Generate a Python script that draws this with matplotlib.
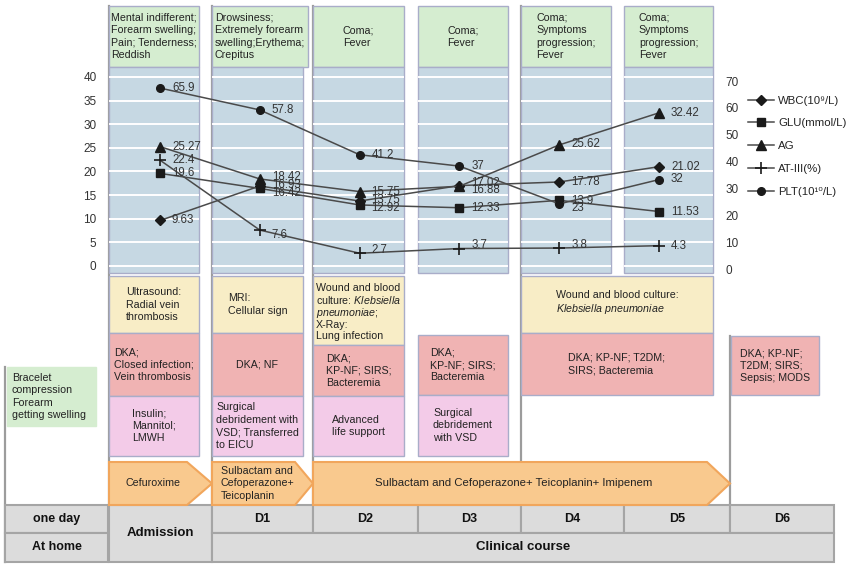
import numpy as np
import matplotlib.pyplot as plt
from matplotlib.patches import Rectangle, Polygon
from matplotlib.transforms import blended_transform_factory, ScaledTranslation

plt.rcParams['font.family'] = ['Liberation Sans', 'DejaVu Sans']
plt.rcParams['mathtext.fontset'] = 'custom'
plt.rcParams['mathtext.rm'] = 'Liberation Sans'
plt.rcParams['mathtext.it'] = 'Liberation Sans:italic'

# lab values per day (Admission, D1..D5)
days = ['Admission', 'D1', 'D2', 'D3', 'D4', 'D5']
wbc = [9.63, 16.93, 13.75, 17.02, 17.78, 21.02]
glu = [19.6, 16.42, 12.92, 12.33, 13.9, 11.53]
ag = [25.27, 18.42, 15.75, 16.88, 25.62, 32.42]
at3 = [22.4, 7.6, 2.7, 3.7, 3.8, 4.3]
plt_vals = [65.9, 57.8, 41.2, 37, 23, 32]

series_names = ['WBC(10⁹/L)', 'GLU(mmol/L)', 'AG', 'AT-III(%)', 'PLT(10¹⁰/L)']

symptoms = ['Mental indifferent;\nForearm swelling;\nPain; Tenderness;\nReddish',
            'Drowsiness;\nExtremely forearm\nswelling;Erythema;\nCrepitus',
            'Coma;\nFever', 'Coma;\nFever',
            'Coma;\nSymptoms\nprogression;\nFever',
            'Coma;\nSymptoms\nprogression;\nFever']
exams = ['Ultrasound:\nRadial vein\nthrombosis',
         'MRI:\nCellular sign',
         'Wound and blood\nculture: $\\it{Klebsiella}$\n$\\it{pneumoniae}$;\nX-Ray:\nLung infection',
         'Wound and blood culture:\n$\\it{Klebsiella\\ pneumoniae}$']
diagnoses = ['DKA;\nClosed infection;\nVein thrombosis', 'DKA; NF',
             'DKA;\nKP-NF; SIRS;\nBacteremia', 'DKA;\nKP-NF; SIRS;\nBacteremia',
             'DKA; KP-NF; T2DM;\nSIRS; Bacteremia',
             'DKA; KP-NF;\nT2DM; SIRS;\nSepsis; MODS']
treatments = ['Insulin;\nMannitol;\nLMWH',
              'Surgical\ndebridement with\nVSD; Transferred\nto EICU',
              'Advanced\nlife support',
              'Surgical\ndebridement\nwith VSD']
antibiotics = ['Cefuroxime', 'Sulbactam and\nCefoperazone+\nTeicoplanin',
               'Sulbactam and Cefoperazone+ Teicoplanin+ Imipenem']
home_note = 'Bracelet\ncompression\nForearm\ngetting swelling'
day_cells = ['D1', 'D2', 'D3', 'D4', 'D5', 'D6']

GREEN = '#d5edd0'
BLUE = '#c6d8e3'
YELLOW = '#f8edc6'
RED = '#f0b3b3'
PINK = '#f3cbe8'
ORANGE = '#f9c98e'
ORANGE_E = '#f1a65c'
GRAY = '#dcdcdc'
GRAY_E = '#a5a5a5'
COL_E = '#a9adc9'
FS = 7.7
LS = 1.3

fig = plt.figure(figsize=(8.5, 5.68), dpi=100)
ax = fig.add_axes([0, 0, 1, 1])
ax.set_xlim(0, 850)
ax.set_ylim(568, 0)
ax.axis('off')


def box(x0, x1, y0, y1, fc, ec=COL_E, text=None, lw=1.0, ha='center', tx=None,
        ls=LS, ty=None, **kw):
    ax.add_patch(Rectangle((x0, y0), x1 - x0, y1 - y0, facecolor=fc,
                           edgecolor=ec, lw=lw, zorder=2))
    if text is not None:
        if tx is None:
            tx = (x0 + x1) / 2
        if ty is None:
            ty = (y0 + y1) / 2
        ax.text(tx, ty, text, ha=ha, va='center', multialignment='left',
                fontsize=kw.pop('fontsize', FS), color=kw.pop('color', '#222222'),
                zorder=5, linespacing=ls, **kw)


cols = [(109, 199), (212, 303), (313, 404), (418, 508), (521, 611), (624, 713)]

# vertical guide lines
vl = dict(color='#9c9c9c', lw=1.6, zorder=1)
ax.plot([5, 5], [367, 562], **vl)
for x0, _ in cols[:3]:
    ax.plot([x0, x0], [6, 505], **vl)
ax.plot([521, 521], [6, 505], **vl)
ax.plot([730, 730], [336, 505], **vl)

# symptom boxes and chart panels
for (x0, x1), s in zip(cols, symptoms):
    box(x0, x1 + (5 if x0 == 212 else 0), 6, 67, GREEN, text=s)
    box(x0, x1, 67, 273, BLUE)

# exams / diagnoses / treatments
box(109, 199, 276, 333, YELLOW, text=exams[0])
box(212, 303, 276, 333, YELLOW, text=exams[1])
box(313, 404, 276, 345, YELLOW, text=exams[2], ls=1.05, ty=312)
box(521, 713, 276, 333, YELLOW, text=exams[3], ls=1.1, ty=303)

box(109, 199, 333, 396, RED, text=diagnoses[0])
box(212, 303, 333, 396, RED, text=diagnoses[1])
box(313, 404, 345, 396, RED, text=diagnoses[2])
box(418, 508, 335, 395, RED, text=diagnoses[3])
box(521, 713, 333, 395, RED, text=diagnoses[4])
box(731, 819, 336, 395, RED, text=diagnoses[5])

box(109, 199, 396, 456, PINK, text=treatments[0])
box(212, 303, 396, 456, PINK, text=treatments[1])
box(313, 404, 396, 456, PINK, text=treatments[2])
box(418, 508, 395, 456, PINK, text=treatments[3])

box(7, 96, 367, 426, GREEN, ec=GREEN, text=home_note, ha='left', tx=12)

# antibiotic arrows
arrows = [(109, 187, 212), (212, 295, 313), (313, 707, 730)]
for (x0, xb, xt), label in zip(arrows, antibiotics):
    ax.add_patch(Polygon([(x0, 462), (xb, 462), (xt, 483.5), (xb, 505), (x0, 505)],
                         closed=True, facecolor=ORANGE, edgecolor=ORANGE_E,
                         lw=1.5, zorder=3))
ax.text(153, 483.5, antibiotics[0], ha='center', va='center', fontsize=FS,
        color='#222222', zorder=5)
ax.text(221, 483.5, antibiotics[1], ha='left', va='center', fontsize=FS,
        color='#222222', zorder=5, linespacing=LS)
ax.text(514, 483.5, antibiotics[2], ha='center', va='center', fontsize=8.2,
        color='#222222', zorder=5)

# timeline table
bold = dict(fontweight='bold', color='#111111')
box(5, 108, 505, 533, GRAY, ec=GRAY_E, lw=1.5, text='one day', fontsize=9, **bold)
box(5, 108, 533, 562, GRAY, ec=GRAY_E, lw=1.5, text='At home', fontsize=9, **bold)
box(109, 212, 505, 562, GRAY, ec=GRAY_E, lw=1.5, text='Admission', fontsize=9.5, **bold)
cell_x = [212, 313, 418, 521, 624, 730, 834]
for i, d in enumerate(day_cells):
    box(cell_x[i], cell_x[i + 1], 505, 533, GRAY, ec=GRAY_E, lw=1.5, text=d,
        fontsize=9, **bold)
box(212, 834, 533, 562, GRAY, ec=GRAY_E, lw=1.5, text='Clinical course',
    fontsize=9.5, **bold)

# data axes
dax = fig.add_axes([109 / 850, 1 - 266 / 568, 604 / 850, 189 / 568])
dax.patch.set_alpha(0)
dax.set_xlim(-0.511, 5.541)
dax.set_ylim(0, 40)
dax.set_yticks(np.arange(0, 41, 5))
dax.set_xticks([])
for sp in dax.spines.values():
    sp.set_visible(False)
dax.tick_params(axis='y', length=0, pad=9, labelsize=8.5, labelcolor='#333333')

# white grid lines inside each panel
trans = blended_transform_factory(ax.transData, dax.transData)
for x0, x1 in cols:
    for v in np.arange(0, 41, 5):
        dax.plot([x0 + 1, x1 - 1], [v, v], color='white', lw=1.4, transform=trans,
                 zorder=0, clip_on=False)

rax = dax.twinx()
rax.set_ylim(0, 70)
rax.set_yticks(np.arange(0, 71, 10))
for sp in rax.spines.values():
    sp.set_visible(False)
rax.tick_params(axis='y', length=0, pad=9, labelsize=8.5, labelcolor='#333333')
# the right-hand scale labels sit a little low in the original
shift = ScaledTranslation(0, -4 / 100, fig.dpi_scale_trans)
for lbl in rax.get_yticklabels():
    lbl.set_transform(lbl.get_transform() + shift)

x = np.arange(len(days))
lstyle = dict(color='#4a4a4a', lw=1.1, markerfacecolor='#1a1a1a',
              markeredgecolor='#1a1a1a', clip_on=False)
h1, = dax.plot(x, wbc, marker='D', ms=5, **lstyle)
h2, = dax.plot(x, glu, marker='s', ms=5.5, **lstyle)
h3, = dax.plot(x, ag, marker='^', ms=6.5, **lstyle)
h4, = dax.plot(x, at3, marker='+', ms=8, mew=1.2, **lstyle)
h5, = rax.plot(x, plt_vals, marker='o', ms=5.5, **lstyle)

# value labels (vertical nudges in pixels, down positive)
label_sets = [
    (dax, wbc, [0, -1, -1, -3, 0, 0]),
    (dax, glu, [0, 5, 3, 0, 1, 0]),
    (dax, ag, [0, -2, 0, 4, -1, 0]),
    (dax, at3, [0, 5, -3, -4, -3, 0]),
    (rax, plt_vals, [0, 0, 0, 0, 4, -1]),
]
for a, vals, dys in label_sets:
    for xi, v, dy in zip(x, vals, dys):
        a.annotate(f'{v:g}', (xi, v), xytext=(12 * 0.72, -dy * 0.72),
                   textcoords='offset points', ha='left', va='center',
                   fontsize=8.3, color='#333333', annotation_clip=False)

fig.legend([h1, h2, h3, h4, h5], series_names, loc='upper left',
           bbox_to_anchor=(742 / 850, 1 - 90 / 568), frameon=False,
           fontsize=8.2, labelspacing=1.12, handlelength=2.3, handletextpad=0.4,
           borderpad=0, labelcolor='#222222')

fig.savefig('out.png', dpi=100)
